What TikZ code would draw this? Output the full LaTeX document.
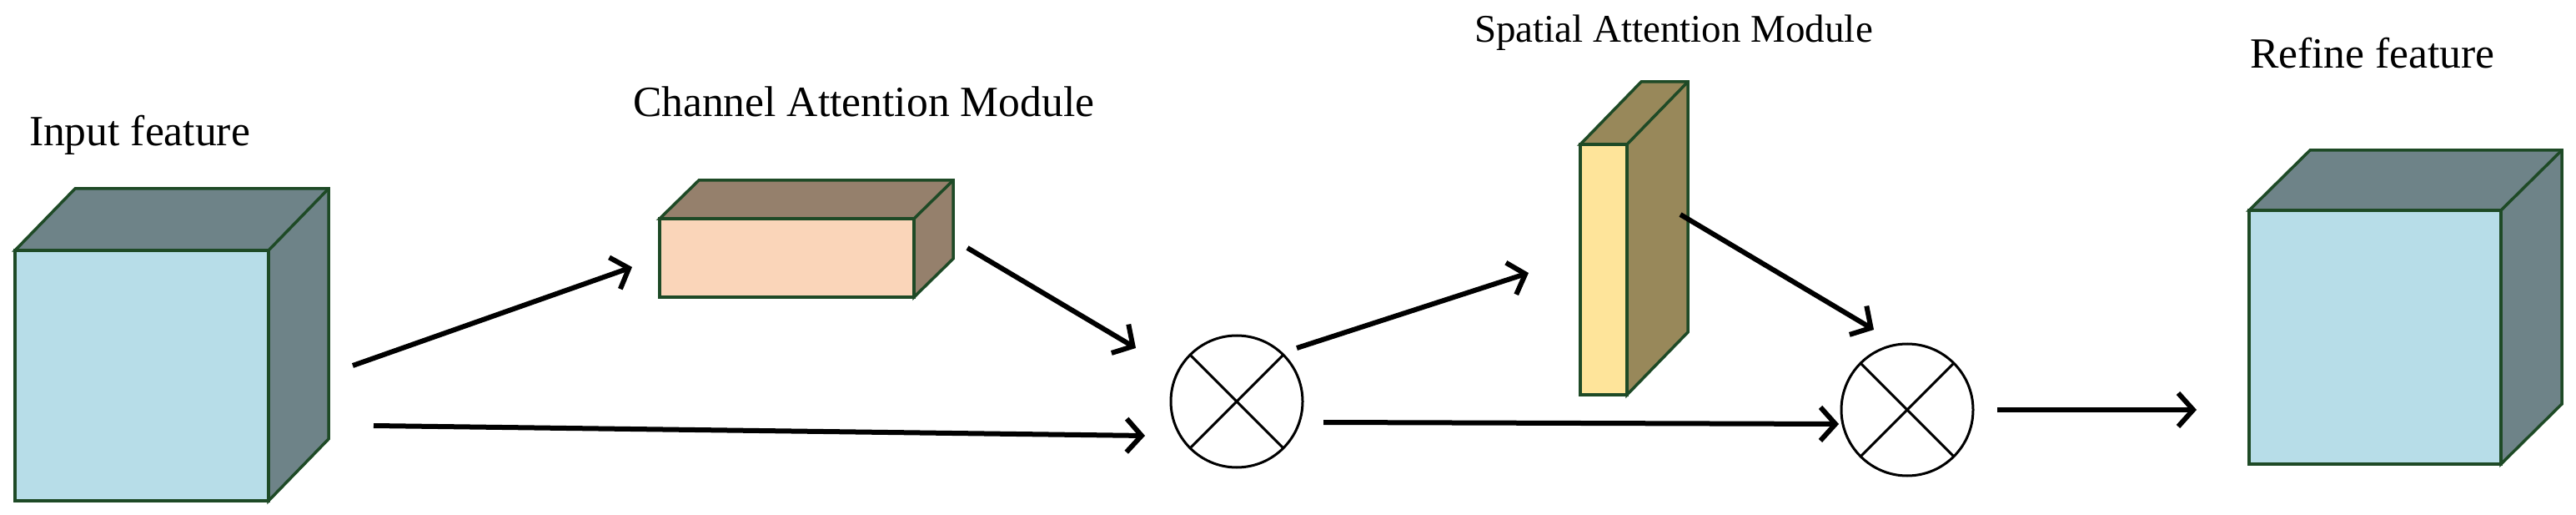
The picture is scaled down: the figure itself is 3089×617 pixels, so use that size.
\documentclass[tikz,border=0pt]{standalone}
\usepackage{fontspec}
\setmainfont{Liberation Serif}
\usetikzlibrary{arrows.meta,calc}
\definecolor{edgegreen}{HTML}{1E4A26}
\definecolor{bluefront}{HTML}{B7DDE8}
\definecolor{blueside}{HTML}{6E8388}
\definecolor{peachfront}{HTML}{FAD5B9}
\definecolor{peachside}{HTML}{95806C}
\definecolor{yellowfront}{HTML}{FEE49A}
\definecolor{yellowside}{HTML}{98885A}
\tikzset{
  frontface/.style={draw=edgegreen, line width=3.5pt, inner sep=0pt, outer sep=0pt, rectangle},
  sideface/.style={draw=edgegreen, line width=3.5pt, line join=miter},
  arr/.style={line width=6pt, -{Straight Barb[length=18pt,width=40pt]}},
  mult/.style={circle, draw=black, line width=3pt, inner sep=0pt, outer sep=0pt, minimum size=158pt,
    path picture={\draw[line width=3pt] (path picture bounding box.north west) -- (path picture bounding box.south east)
      (path picture bounding box.north east) -- (path picture bounding box.south west);}},
  label/.style={inner sep=0pt, outer sep=0pt, anchor=base west, font=\fontsize{51.6pt}{60pt}\selectfont}
}
% #1 name, #2 center x, #3 center y, #4 width, #5 height, #6 dx, #7 dy, #8 front colour, #9 side colour
\newcommand\mycuboid[9]{
  \node[frontface, fill=#8, minimum width=#4pt, minimum height=#5pt] (#1) at (#2,#3) {};
  \filldraw[sideface, fill=#9] (#1.north west) -- ++(#6,#7) -| ($(#1.south east)+(#6,#7)$) -- (#1.south east) -- (#1.north east) -- cycle;
  \draw[sideface] (#1.north east) -- ++(#6,#7);
}
\begin{document}
\begin{tikzpicture}[x=1pt,y=-1pt]
\useasboundingbox (0,0) rectangle (3089,617);
\fill[white] (0,0) rectangle (3089,617);

% cuboids
\mycuboid{inp}{170}{450}{304}{300}{72}{-74}{bluefront}{blueside}
\mycuboid{cam}{943.5}{309}{305}{94}{47}{-46}{peachfront}{peachside}
\mycuboid{sam}{1923}{323}{56}{300}{73}{-75}{yellowfront}{yellowside}
\mycuboid{ref}{2848}{404}{302}{304}{73}{-72}{bluefront}{blueside}

% multiplication nodes
\node[mult] (m1) at (1483,481) {};
\node[mult] (m2) at (2287,491) {};

% labels
\node[label] (linp) at (35,175) {Input feature};
\node[label] (lcam) at (759,140) {Channel Attention Module};
\node[label, font=\fontsize{47pt}{56pt}\selectfont] (lsam) at (1768,51) {Spatial Attention Module};
\node[label] (lref) at (2698,82) {Refine feature};

% connector end points
\coordinate (a1s) at (423,438);  \coordinate (a1e) at (758,320);
\coordinate (a2s) at (448,510);  \coordinate (a2e) at (1373,522);
\coordinate (a3s) at (1160,297); \coordinate (a3e) at (1362,417);
\coordinate (a4s) at (1555,417); \coordinate (a4e) at (1833,327);
\coordinate (a5s) at (1587,506); \coordinate (a5e) at (2205,508);
\coordinate (a6s) at (2015,257); \coordinate (a6e) at (2247,395);
\coordinate (a7s) at (2395,491); \coordinate (a7e) at (2634,491);

\draw[arr] (a1s) -- (a1e);
\draw[arr] (a2s) -- (a2e);
\draw[arr] (a3s) -- (a3e);
\draw[arr] (a4s) -- (a4e);
\draw[arr] (a5s) -- (a5e);
\draw[arr] (a6s) -- (a6e);
\draw[arr] (a7s) -- (a7e);
\end{tikzpicture}
\end{document}
